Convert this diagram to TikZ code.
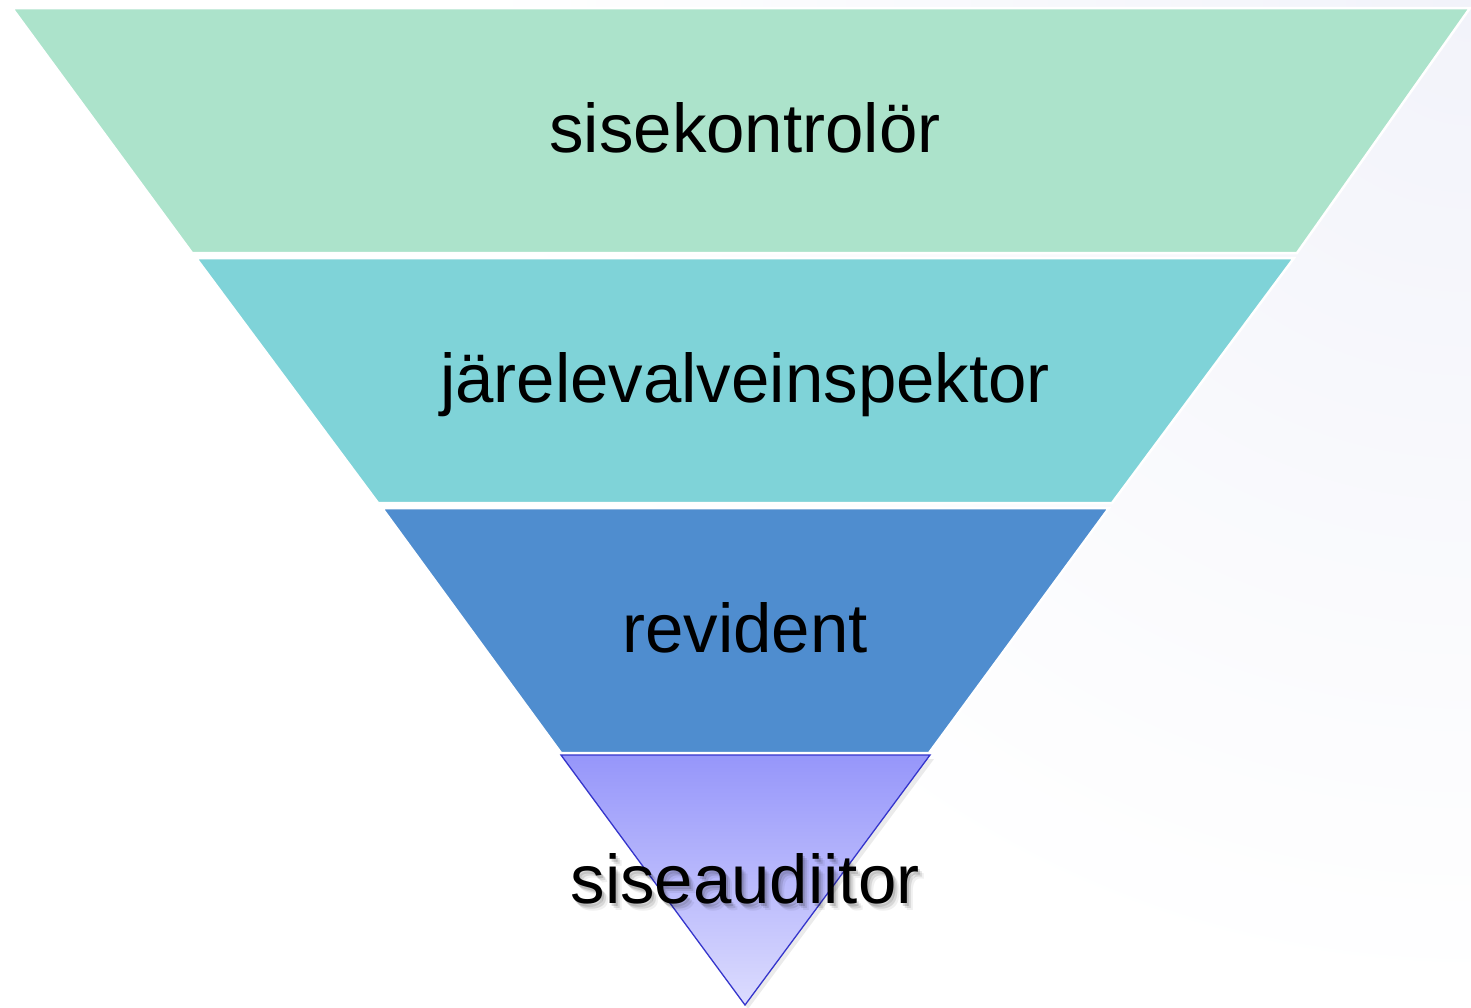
\documentclass[tikz,border=0pt]{standalone}
\usepackage{fontspec}
\setmainfont{Liberation Sans}
\definecolor{bandA}{HTML}{ACE3CB}
\definecolor{bandB}{HTML}{7FD3D8}
\definecolor{bandC}{HTML}{4F8DCF}
\definecolor{triTop}{HTML}{9696FA}
\definecolor{triBot}{HTML}{DCDCFE}
\definecolor{triLine}{HTML}{3535CC}
\definecolor{bgLav}{HTML}{F2F3FA}
\begin{document}
\begin{tikzpicture}[x=1pt,y=-1pt,
  band/.style={draw=white,line width=2.5pt,line join=miter},
  lbl/.style={anchor=base,inner sep=0pt,font=\fontsize{69}{80}\selectfont,text=black}]
\useasboundingbox (0,0) rectangle (1471,1007);
\begin{scope}
\clip (0,0) rectangle (1471,1007);
\fill[white] (0,0) rectangle (1471,1007);
\shade[inner color=bgLav,outer color=white] (471,-1000) rectangle (2471,1000);
\end{scope}
% bands
\fill[bandA,band] (12,8) -- (1470,8) -- (1297,253) -- (192,253) -- cycle;
\fill[bandB,band] (196,258) -- (1294,258) -- (1112,503) -- (378,503) -- cycle;
\fill[bandC,band] (382,508) -- (1109,508) -- (929,753) -- (561,753) -- cycle;
% bottom triangle
\fill[black,opacity=0.08] (563,759) -- (934,759) -- (748,1009) -- cycle;
\shade[top color=triTop,bottom color=triBot] (561,755) -- (930,755) -- (745,1005) -- cycle;
\draw[triLine,line width=1.3pt,line join=miter] (561,755) -- (930,755) -- (745,1005) -- cycle;
% labels
\node[lbl] (l1) at (745,152) {sisekontrolör};
\node[lbl] (l2) at (745,402) {järelevalveinspektor};
\node[lbl] (l3) at (745,652) {revident};
\foreach \dx/\dy/\op in {2/3/0.14,4/5/0.10,6/7/0.06}
  \node[lbl,text opacity=\op] at (745+\dx,903+\dy) {siseaudiitor};
\node[lbl] (l4) at (745,903) {siseaudiitor};
\end{tikzpicture}
\end{document}
